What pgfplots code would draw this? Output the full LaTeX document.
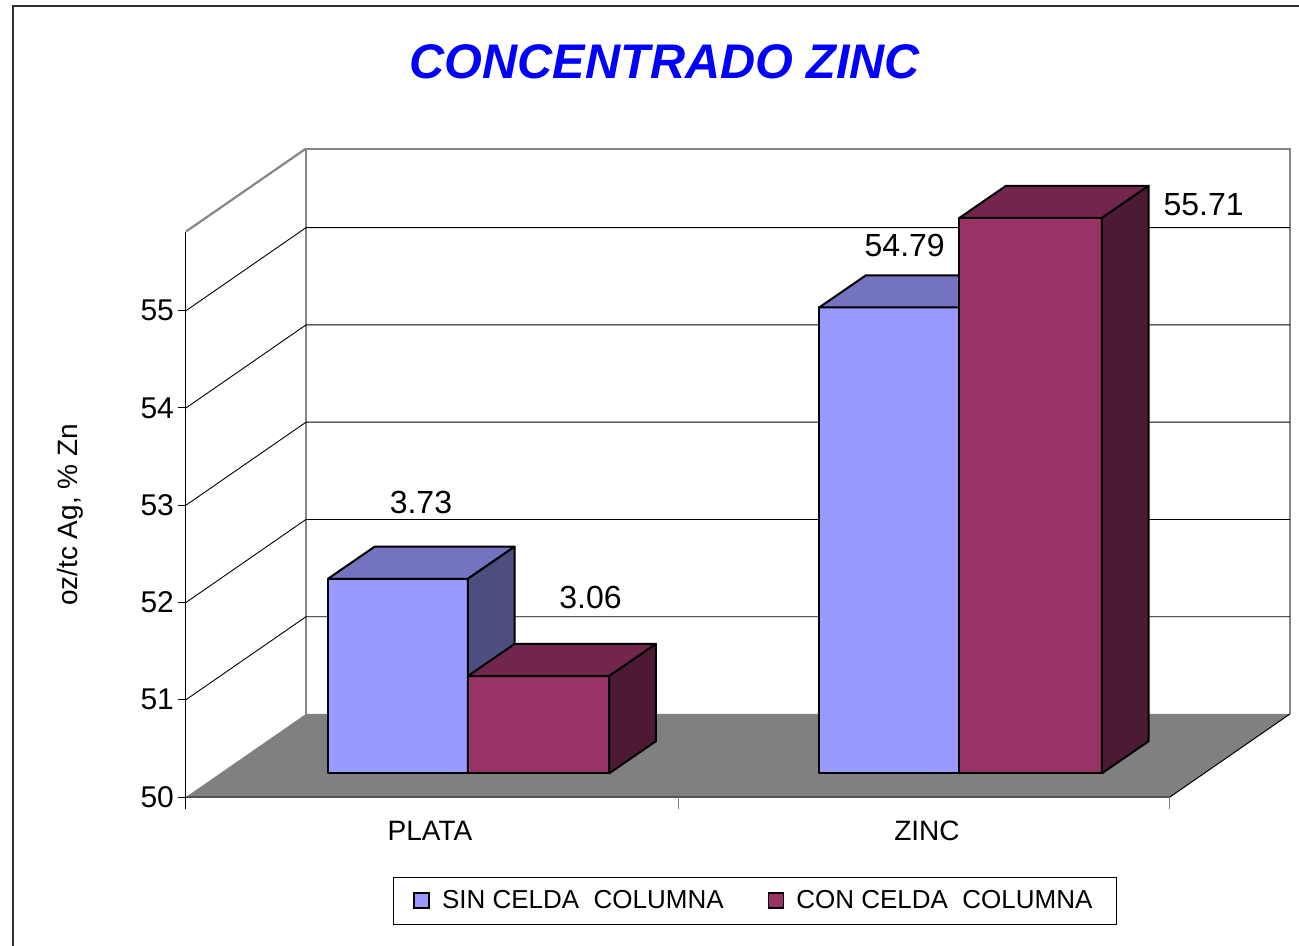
\documentclass[border=0pt]{standalone}
\usepackage{fontspec}
\setmainfont{Liberation Sans}
\usepackage{pgfplots}
\pgfplotsset{compat=1.18}
\definecolor{sinF}{HTML}{9999FF}
\definecolor{sinT}{HTML}{7373BF}
\definecolor{sinS}{HTML}{4D4D80}
\definecolor{conF}{HTML}{993366}
\definecolor{conT}{HTML}{73264D}
\definecolor{conS}{HTML}{4D1A33}
\definecolor{floorgray}{HTML}{808080}
\definecolor{wallgray}{HTML}{868686}
\definecolor{framec}{HTML}{303030}
\definecolor{titleblue}{HTML}{0000FF}
\begin{document}
\begin{tikzpicture}
\begin{axis}[
  scale only axis, width=552.0pt, height=324.2pt,
  xmin=0, xmax=11.351, ymin=49.7563, ymax=56.423,
  clip=false,
  axis x line*=bottom, axis y line*=left,
  axis line style={draw=none},
  tick align=outside,
  major tick length=4pt,
  ytick={49.7563,50.7563,51.7563,52.7563,53.7563,54.7563},
  yticklabels={50,51,52,53,54,55},
  ytick style={draw=black, line width=0.5pt},
  yticklabel style={font=\fontsize{15}{17}\selectfont, xshift=1.5pt},
  xtick={2.509,7.619}, xticklabels={PLATA,ZINC},
  xtick style={draw=none},
  xticklabel style={anchor=center, yshift=-13pt, font=\fontsize{14}{16}\selectfont},
  ylabel={oz/tc Ag, \% Zn},
  ylabel style={at={(axis description cs:-0.1051,0.435)}, anchor=center, font=\fontsize{14}{16}\selectfont},
  title={CONCENTRADO ZINC},
  title style={at={(axis description cs:0.4339,1.115)}, anchor=center, text=titleblue, font=\fontsize{24.3}{28}\selectfont\bfseries\itshape},
  legend style={at={(axis description cs:0.5154,-0.1603)}, anchor=center, draw=black, line width=0.6pt,
    legend columns=2, font=\fontsize{13}{15}\selectfont, inner xsep=10pt, inner ysep=4.5pt,
    /tikz/every odd column/.append style={column sep=4pt},
    /tikz/every even column/.append style={column sep=20pt}},
  legend image code/.code={\draw[#1, line width=0.8pt] (0pt,-3.5pt) rectangle (7.5pt,4pt);},
]
% back wall edges
\addplot[draw=wallgray, line width=1.1pt, forget plot] coordinates {(1.234,50.610) (1.234,56.423) (11.351,56.423) (11.351,50.610)};
% left wall top edge
\addplot[draw=wallgray, line width=1.1pt, forget plot] coordinates {(0,55.570) (1.234,56.423)};
% left wall front edge (value axis)
\addplot[draw=black, line width=0.5pt, forget plot] coordinates {(0,49.7563) (0,55.570)};
% gridlines 51..55
\addplot[draw=black, line width=0.45pt, forget plot] coordinates {(0,50.7563) (1.234,51.610) (11.351,51.610)};
\addplot[draw=black, line width=0.45pt, forget plot] coordinates {(0,51.7563) (1.234,52.610) (11.351,52.610)};
\addplot[draw=black, line width=0.45pt, forget plot] coordinates {(0,52.7563) (1.234,53.610) (11.351,53.610)};
\addplot[draw=black, line width=0.45pt, forget plot] coordinates {(0,53.7563) (1.234,54.610) (11.351,54.610)};
\addplot[draw=black, line width=0.45pt, forget plot] coordinates {(0,54.7563) (1.234,55.610) (11.351,55.610)};
% floor
\addplot[fill=floorgray, draw=none, forget plot] coordinates {(0,49.7563) (10.117,49.7563) (11.351,50.610) (1.234,50.610)} -- cycle;
\addplot[draw=black, line width=0.5pt, forget plot] coordinates {(0,49.7563) (10.117,49.7563) (11.351,50.610)};
% category separator ticks
\addplot[draw=black, line width=0.5pt, forget plot] coordinates {(0,49.7563) (0,49.63)};
\addplot[draw=gray, line width=0.5pt, forget plot] coordinates {(5.069,49.7563) (5.069,49.63)};
\addplot[draw=gray, line width=0.5pt, forget plot] coordinates {(10.117,49.7563) (10.117,49.63)};
% PLATA - SIN (52.00)
\addplot[fill=sinF, draw=black, line width=1pt, line join=round, forget plot] coordinates {(1.460,50) (2.899,50) (2.899,52.00) (1.460,52.00)} -- cycle;
\addplot[fill=sinT, draw=black, line width=1pt, line join=round, forget plot] coordinates {(1.460,52.00) (2.899,52.00) (3.379,52.33) (1.940,52.33)} -- cycle;
\addplot[fill=sinS, draw=black, line width=1pt, line join=round, forget plot] coordinates {(2.899,50) (3.379,50.33) (3.379,52.33) (2.899,52.00)} -- cycle;
% PLATA - CON (51.00)
\addplot[fill=conF, draw=black, line width=1pt, line join=round, forget plot] coordinates {(2.899,50) (4.352,50) (4.352,51.00) (2.899,51.00)} -- cycle;
\addplot[fill=conT, draw=black, line width=1pt, line join=round, forget plot] coordinates {(2.899,51.00) (4.352,51.00) (4.832,51.33) (3.379,51.33)} -- cycle;
\addplot[fill=conS, draw=black, line width=1pt, line join=round, forget plot] coordinates {(4.352,50) (4.832,50.33) (4.832,51.33) (4.352,51.00)} -- cycle;
% ZINC - SIN (54.79)
\addplot[fill=sinF, draw=black, line width=1pt, line join=round, forget plot] coordinates {(6.511,50) (7.951,50) (7.951,54.79) (6.511,54.79)} -- cycle;
\addplot[fill=sinT, draw=black, line width=1pt, line join=round, forget plot] coordinates {(6.511,54.79) (7.951,54.79) (8.431,55.12) (6.991,55.12)} -- cycle;
\addplot[fill=sinS, draw=black, line width=1pt, line join=round, forget plot] coordinates {(7.951,50) (8.431,50.33) (8.431,55.12) (7.951,54.79)} -- cycle;
% ZINC - CON (55.71)
\addplot[fill=conF, draw=black, line width=1pt, line join=round, forget plot] coordinates {(7.951,50) (9.418,50) (9.418,55.71) (7.951,55.71)} -- cycle;
\addplot[fill=conT, draw=black, line width=1pt, line join=round, forget plot] coordinates {(7.951,55.71) (9.418,55.71) (9.898,56.04) (8.431,56.04)} -- cycle;
\addplot[fill=conS, draw=black, line width=1pt, line join=round, forget plot] coordinates {(9.418,50) (9.898,50.33) (9.898,56.04) (9.418,55.71)} -- cycle;
% data labels
\node[font=\fontsize{16}{18}\selectfont] at (axis cs:2.416,52.780) {3.73};
\node[font=\fontsize{16}{18}\selectfont] at (axis cs:4.159,51.807) {3.06};
\node[font=\fontsize{16}{18}\selectfont] at (axis cs:7.390,55.422) {54.79};
\node[font=\fontsize{16}{18}\selectfont] at (axis cs:10.464,55.843) {55.71};
% legend
\addlegendimage{fill=sinF, draw=black}
\addlegendentry{SIN CELDA~~COLUMNA}
\addlegendimage{fill=conF, draw=black}
\addlegendentry{CON CELDA~~COLUMNA}
% chart frame
\draw[color=framec, line width=1pt] (axis cs:-1.779,48.1) -- (axis cs:-1.779,57.889) -- (axis cs:11.6,57.889);
\coordinate (bbll) at (axis cs:-1.912,48.234);
\coordinate (bbur) at (axis cs:11.444,57.951);
\end{axis}
\pgfresetboundingbox
\path[use as bounding box] (bbll) rectangle (bbur);
\end{tikzpicture}
\end{document}
